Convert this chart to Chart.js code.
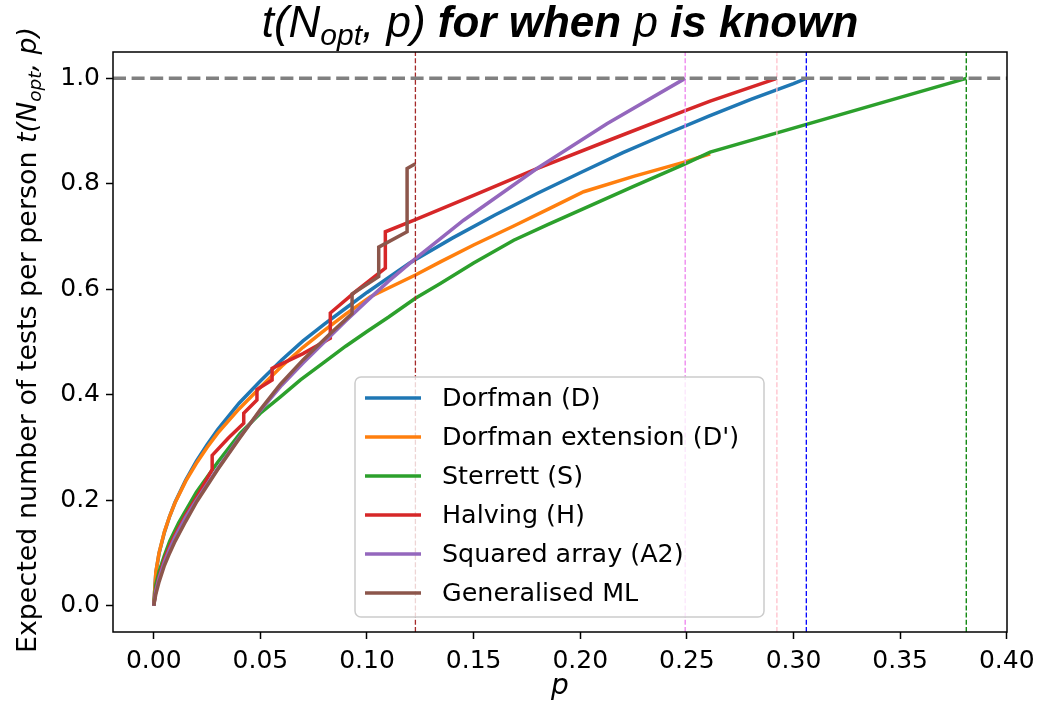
<!DOCTYPE html>
<html>
<head>
<meta charset="utf-8">
<script src="https://cdn.jsdelivr.net/npm/chart.js@4.4.0/dist/chart.umd.min.js"></script>
<style>
  body { margin: 0; background: #fff; }
</style>
</head>
<body>
<canvas id="chart" width="1042" height="715"></canvas>
<script>
// values
var pD = [0, 0.001, 0.0025, 0.005, 0.0075, 0.01, 0.015, 0.02, 0.025, 0.03, 0.04, 0.05, 0.06, 0.07, 0.08, 0.09, 0.10, 0.12, 0.14, 0.16, 0.18, 0.20, 0.22, 0.24, 0.26, 0.28, 0.30, 0.306];
var tD = [0, 0.063, 0.099, 0.139, 0.170, 0.196, 0.238, 0.274, 0.305, 0.334, 0.384, 0.426, 0.466, 0.502, 0.534, 0.564, 0.594, 0.650, 0.697, 0.741, 0.782, 0.821, 0.859, 0.894, 0.928, 0.960, 0.990, 1.0];

var pE = [0, 0.001, 0.0025, 0.005, 0.0075, 0.01, 0.015, 0.02, 0.025, 0.03, 0.04, 0.05, 0.06, 0.07, 0.08, 0.09, 0.1016, 0.1227, 0.1344, 0.15, 0.1688, 0.185, 0.2016, 0.225, 0.2492, 0.2609];
var tE = [0, 0.064, 0.100, 0.140, 0.170, 0.195, 0.236, 0.270, 0.300, 0.327, 0.373, 0.414, 0.454, 0.490, 0.522, 0.553, 0.586, 0.627, 0.652, 0.684, 0.720, 0.752, 0.785, 0.814, 0.8415, 0.857];

var pS = [0, 0.001, 0.0025, 0.005, 0.0075, 0.01, 0.0117, 0.015, 0.02, 0.03, 0.0406, 0.05, 0.0594, 0.0688, 0.08, 0.09, 0.10, 0.11, 0.1227, 0.1344, 0.15, 0.1688, 0.185, 0.2016, 0.225, 0.2492, 0.2609, 0.381];
var tS = [0, 0.040, 0.065, 0.095, 0.122, 0.143, 0.157, 0.180, 0.215, 0.272, 0.327, 0.365, 0.396, 0.428, 0.462, 0.492, 0.520, 0.547, 0.583, 0.611, 0.650, 0.693, 0.723, 0.753, 0.795, 0.838, 0.860, 1.0];

var pH = [0, 0.001, 0.0025, 0.005, 0.0075, 0.01, 0.015, 0.02, 0.0274, 0.0274, 0.035, 0.0422, 0.0422, 0.0484, 0.0484, 0.0555, 0.0555, 0.07, 0.0828, 0.0828, 0.095, 0.1086, 0.1086, 0.1227, 0.15, 0.1797, 0.215, 0.2492, 0.2609, 0.2922];
var tH = [0, 0.030, 0.055, 0.088, 0.113, 0.135, 0.172, 0.205, 0.258, 0.285, 0.318, 0.346, 0.365, 0.390, 0.410, 0.428, 0.450, 0.478, 0.507, 0.555, 0.597, 0.640, 0.709, 0.732, 0.778, 0.829, 0.885, 0.939, 0.957, 1.0];

var pA = [0, 0.001, 0.0025, 0.005, 0.0075, 0.01, 0.015, 0.02, 0.03, 0.04, 0.05, 0.06, 0.07, 0.08, 0.09, 0.10, 0.11, 0.1227, 0.1453, 0.1797, 0.2125, 0.2492];
var tA = [0, 0.028, 0.052, 0.083, 0.108, 0.130, 0.168, 0.200, 0.260, 0.318, 0.370, 0.418, 0.460, 0.500, 0.540, 0.578, 0.615, 0.658, 0.731, 0.829, 0.914, 1.0];

var pG = [0, 0.001, 0.0025, 0.005, 0.0075, 0.01, 0.015, 0.0203, 0.03, 0.04, 0.05, 0.0594, 0.07, 0.0828, 0.093, 0.093, 0.1055, 0.1055, 0.1188, 0.1188, 0.1227];
var tG = [0, 0.022, 0.045, 0.076, 0.100, 0.122, 0.160, 0.198, 0.258, 0.316, 0.372, 0.420, 0.466, 0.516, 0.554, 0.591, 0.624, 0.680, 0.709, 0.829, 0.838];

var labels = ["Dorfman (D)", "Dorfman extension (D')", "Sterrett (S)", "Halving (H)", "Squared array (A2)", "Generalised ML"];
var colors = ["#1f77b4", "#ff7f0e", "#2ca02c", "#d62728", "#9467bd", "#8c564b"];

// thresholds where each method reaches 1 test per person
var vlineP = [0.1227, 0.2492, 0.2922, 0.306, 0.381];
var vlineColors = ["brown", "violet", "pink", "blue", "green"];

var xTicks = [0.00, 0.05, 0.10, 0.15, 0.20, 0.25, 0.30, 0.35, 0.40];
var yTicks = [0.0, 0.2, 0.4, 0.6, 0.8, 1.0];

var X_MIN = -0.0191, X_MAX = 0.4001, Y_MIN = -0.05, Y_MAX = 1.05;

function pts(xs, ys) {
    return xs.map(function(x, i) { return { x: x, y: ys[i] }; });
}

var series = [[pD, tD], [pE, tE], [pS, tS], [pH, tH], [pA, tA], [pG, tG]];
var datasets = series.map(function(s, i) {
    return {
        label: labels[i],
        data: pts(s[0], s[1]),
        showLine: true,
        borderColor: colors[i],
        backgroundColor: colors[i],
        borderWidth: 3.5,
        pointRadius: 0,
        order: 10 - i
    };
});

vlineP.forEach(function(v, i) {
    datasets.push({
        label: "",
        data: [{ x: v, y: Y_MIN }, { x: v, y: Y_MAX }],
        showLine: true,
        borderColor: vlineColors[i],
        borderWidth: 1.3,
        borderDash: [5, 2.2],
        pointRadius: 0,
        order: 1
    });
});

datasets.push({
    label: "",
    data: [{ x: X_MIN, y: 1 }, { x: X_MAX, y: 1 }],
    showLine: true,
    borderColor: "grey",
    borderWidth: 3.5,
    borderDash: [13, 5.6],
    pointRadius: 0,
    order: 0
});

// draws a run of text pieces with different fonts, centred on cx
function richText(ctx, segs, cx, y) {
    var total = 0;
    segs.forEach(function(s) { ctx.font = s.font; total += ctx.measureText(s.text).width; });
    var x = cx - total / 2;
    segs.forEach(function(s) {
        ctx.font = s.font;
        ctx.fillText(s.text, x, y + (s.dy || 0));
        x += ctx.measureText(s.text).width;
    });
}

var decor = {
    id: "decor",
    afterDatasetsDraw: function(chart) {
        var ctx = chart.ctx;
        var a = chart.chartArea;
        ctx.save();

        // frame
        ctx.strokeStyle = "#000";
        ctx.lineWidth = 1.5;
        ctx.strokeRect(a.left, a.top, a.right - a.left, a.bottom - a.top);

        // legend
        var lx = 355, ly = 377, lw = 409, lh = 240, r = 6;
        ctx.beginPath();
        ctx.moveTo(lx + r, ly);
        ctx.arcTo(lx + lw, ly, lx + lw, ly + lh, r);
        ctx.arcTo(lx + lw, ly + lh, lx, ly + lh, r);
        ctx.arcTo(lx, ly + lh, lx, ly, r);
        ctx.arcTo(lx, ly, lx + lw, ly, r);
        ctx.closePath();
        ctx.fillStyle = "rgba(255,255,255,0.8)";
        ctx.fill();
        ctx.strokeStyle = "#cccccc";
        ctx.lineWidth = 1.5;
        ctx.stroke();

        ctx.font = "25.4px 'DejaVu Sans'";
        ctx.textBaseline = "middle";
        ctx.textAlign = "left";
        labels.forEach(function(lab, i) {
            var yy = 398 + i * 39;
            ctx.strokeStyle = colors[i];
            ctx.lineWidth = 3.5;
            ctx.beginPath();
            ctx.moveTo(365, yy);
            ctx.lineTo(421, yy);
            ctx.stroke();
            ctx.fillStyle = "#000";
            ctx.fillText(lab, 442, yy + 1);
        });

        // title
        ctx.textBaseline = "alphabetic";
        ctx.fillStyle = "#000";
        var it = "italic 44px 'Liberation Sans'";
        var bi = "italic bold 44px 'Liberation Sans'";
        var sub = "italic 30px 'Liberation Sans'";
        richText(ctx, [
            { text: "t(N", font: it },
            { text: "opt", font: sub, dy: 8 },
            { text: ", p) ", font: it },
            { text: "for when ", font: bi },
            { text: "p", font: it },
            { text: " is known", font: bi }
        ], (a.left + a.right) / 2, 37);

        // x label
        richText(ctx, [{ text: "p", font: "italic 28px 'DejaVu Sans'" }], (a.left + a.right) / 2, 694);

        // y label
        ctx.translate(36, 340);
        ctx.rotate(-Math.PI / 2);
        var yn = "26.9px 'DejaVu Sans'";
        var yi = "italic 26.9px 'DejaVu Sans'";
        richText(ctx, [
            { text: "Expected number of tests per person ", font: yn },
            { text: "t(N", font: yi },
            { text: "opt", font: "italic 18.5px 'DejaVu Sans'", dy: 5 },
            { text: ", p)", font: yi }
        ], 0, 0);
        ctx.restore();
    }
};

var tickFont = { family: "DejaVu Sans", size: 25 };

new Chart(document.getElementById("chart"), {
    type: "scatter",
    data: { datasets: datasets },
    options: {
        responsive: false,
        animation: false,
        devicePixelRatio: 1,
        layout: { padding: { top: 52, right: 35, left: 0, bottom: 0 } },
        plugins: {
            legend: { display: false },
            title: { display: false },
            tooltip: { enabled: false }
        },
        elements: { line: { tension: 0 } },
        scales: {
            x: {
                type: "linear",
                min: X_MIN,
                max: X_MAX,
                afterBuildTicks: function(s) { s.ticks = xTicks.map(function(v) { return { value: v }; }); },
                afterFit: function(s) { s.height = 83; },
                ticks: {
                    font: tickFont,
                    color: "#000",
                    padding: 7,
                    autoSkip: false,
                    maxRotation: 0,
                    callback: function(v) { return v.toFixed(2); }
                },
                grid: { display: true, drawOnChartArea: false, drawTicks: true, tickLength: 7, tickWidth: 1.5, tickColor: "#000" },
                border: { display: false }
            },
            y: {
                type: "linear",
                min: Y_MIN,
                max: Y_MAX,
                afterBuildTicks: function(s) { s.ticks = yTicks.map(function(v) { return { value: v }; }); },
                afterFit: function(s) { s.width = 113; },
                ticks: {
                    font: tickFont,
                    color: "#000",
                    padding: 6,
                    callback: function(v) { return v.toFixed(1); }
                },
                grid: { display: true, drawOnChartArea: false, drawTicks: true, tickLength: 7, tickWidth: 1.5, tickColor: "#000" },
                border: { display: false }
            }
        }
    },
    plugins: [decor]
});
</script>
</body>
</html>
